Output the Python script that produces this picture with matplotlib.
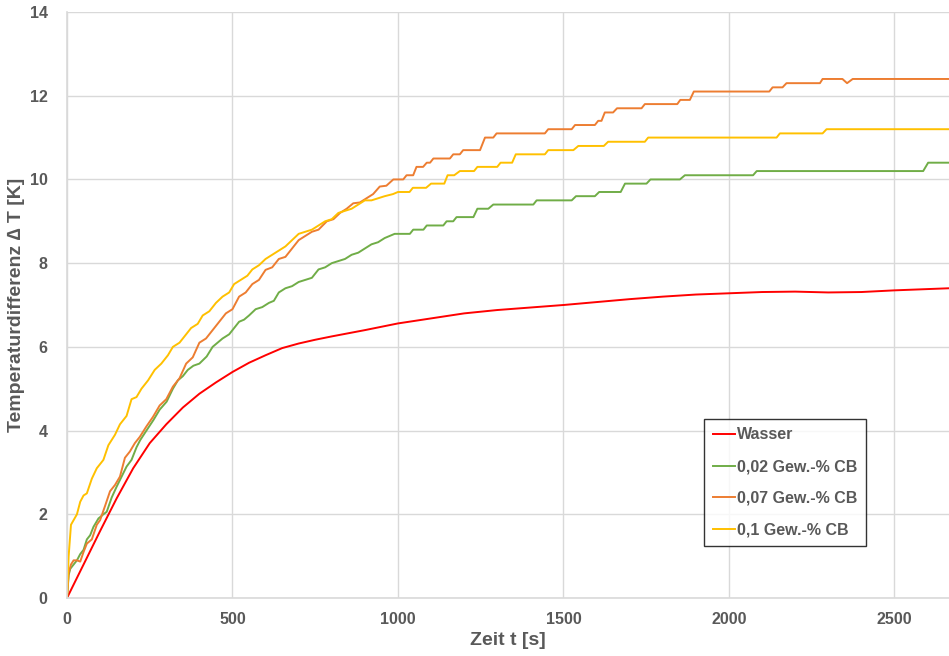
import numpy as np
import matplotlib
matplotlib.use("Agg")
import matplotlib.pyplot as plt

plt.rcParams['font.family'] = ['Liberation Sans', 'DejaVu Sans']

# Wasser (smooth curve)
t_wasser = [0, 50, 100, 150, 200, 250, 300, 350, 400, 450, 500, 550, 600, 650, 700, 750,
            800, 900, 1000, 1100, 1200, 1300, 1400, 1500, 1600, 1700, 1800, 1900, 2000,
            2100, 2200, 2300, 2400, 2500, 2665]
v_wasser = [0, 0.8, 1.6, 2.38, 3.1, 3.7, 4.15, 4.55, 4.88, 5.15, 5.4, 5.62, 5.8, 5.97,
            6.08, 6.17, 6.25, 6.4, 6.56, 6.68, 6.8, 6.88, 6.94, 7.0, 7.07, 7.14, 7.2,
            7.25, 7.28, 7.31, 7.32, 7.3, 7.31, 7.35, 7.4]

# 0,02 Gew.-% CB
t_cb002 = [0, 5, 10, 20, 30, 40, 50, 60, 70, 80, 95, 110, 120, 135, 150, 165, 180, 195,
           210, 221, 240, 261, 280, 301, 320, 335, 350, 365, 382, 400, 422, 440, 455,
           470, 490, 505, 520, 535, 550, 570, 590, 610, 625, 640, 660, 680, 700, 720,
           740, 760, 780, 800, 820, 840, 860, 880, 900, 920, 940, 960, 990, 1036, 1046,
           1077, 1087, 1137, 1147, 1167, 1177, 1228, 1240, 1273, 1288, 1409, 1419,
           1525, 1538, 1595, 1608, 1673, 1686, 1751, 1763, 1852, 1867, 2073, 2084,
           2587, 2602, 2665]
v_cb002 = [0, 0.55, 0.7, 0.8, 0.9, 1.05, 1.15, 1.4, 1.5, 1.7, 1.9, 2.0, 2.06, 2.4, 2.66,
           2.9, 3.14, 3.3, 3.6, 3.77, 4.0, 4.25, 4.5, 4.69, 5.0, 5.2, 5.3, 5.45, 5.55,
           5.6, 5.77, 6.0, 6.1, 6.2, 6.3, 6.45, 6.6, 6.65, 6.75, 6.9, 6.95, 7.05, 7.1,
           7.3, 7.4, 7.45, 7.55, 7.6, 7.65, 7.85, 7.9, 8.0, 8.05, 8.1, 8.2, 8.25, 8.35,
           8.45, 8.5, 8.6, 8.7, 8.7, 8.8, 8.8, 8.9, 8.9, 9.0, 9.0, 9.1, 9.1, 9.3, 9.3,
           9.4, 9.4, 9.5, 9.5, 9.6, 9.6, 9.7, 9.7, 9.9, 9.9, 10.0, 10.0, 10.1, 10.1,
           10.2, 10.2, 10.4, 10.4]

# 0,07 Gew.-% CB
t_cb007 = [0, 5, 12, 20, 30, 40, 50, 60, 75, 90, 100, 115, 130, 145, 160, 175, 190, 205,
           220, 240, 260, 280, 300, 320, 340, 360, 380, 400, 420, 440, 460, 480, 500,
           520, 540, 560, 580, 600, 620, 640, 660, 680, 700, 720, 740, 760, 785, 805,
           825, 845, 865, 885, 905, 925, 945, 965, 986, 1016, 1026, 1046, 1056, 1076,
           1087, 1097, 1107, 1157, 1167, 1187, 1197, 1248, 1263, 1288, 1298, 1444,
           1454, 1525, 1535, 1595, 1605, 1615, 1625, 1650, 1662, 1736, 1746, 1844,
           1853, 1882, 1894, 2122, 2132, 2162, 2174, 2275, 2283, 2343, 2357, 2374, 2665]
v_cb007 = [0, 0.6, 0.8, 0.9, 0.9, 0.87, 1.1, 1.3, 1.4, 1.75, 1.86, 2.2, 2.55, 2.7, 2.9,
           3.35, 3.5, 3.7, 3.85, 4.1, 4.33, 4.6, 4.75, 5.05, 5.25, 5.6, 5.75, 6.1, 6.2,
           6.4, 6.6, 6.8, 6.9, 7.2, 7.3, 7.5, 7.6, 7.84, 7.9, 8.1, 8.15, 8.35, 8.55,
           8.65, 8.75, 8.8, 9.0, 9.05, 9.2, 9.3, 9.43, 9.45, 9.55, 9.65, 9.83, 9.85,
           10.0, 10.0, 10.1, 10.1, 10.3, 10.3, 10.4, 10.4, 10.5, 10.5, 10.6, 10.6, 10.7,
           10.7, 11.0, 11.0, 11.1, 11.1, 11.2, 11.2, 11.3, 11.3, 11.4, 11.4, 11.6, 11.6,
           11.7, 11.7, 11.8, 11.8, 11.9, 11.9, 12.1, 12.1, 12.2, 12.2, 12.3, 12.3, 12.4,
           12.4, 12.3, 12.4, 12.4]

# 0,1 Gew.-% CB
t_cb01 = [0, 5, 12, 30, 40, 50, 60, 75, 90, 110, 125, 145, 160, 180, 195, 210, 225, 245,
          265, 285, 305, 320, 340, 360, 375, 395, 410, 430, 450, 470, 490, 505, 525,
          545, 560, 580, 600, 620, 640, 660, 680, 700, 720, 740, 760, 780, 800, 820,
          840, 860, 880, 900, 920, 940, 960, 985, 1000, 1035, 1045, 1085, 1100, 1140,
          1150, 1170, 1187, 1230, 1240, 1300, 1310, 1345, 1356, 1444, 1454, 1530, 1545,
          1622, 1635, 1746, 1756, 2144, 2154, 2283, 2295, 2665]
v_cb01 = [0, 1.0, 1.75, 2.0, 2.3, 2.45, 2.5, 2.85, 3.1, 3.3, 3.65, 3.9, 4.15, 4.35, 4.75,
          4.8, 5.0, 5.2, 5.45, 5.6, 5.8, 6.0, 6.1, 6.3, 6.45, 6.55, 6.75, 6.85, 7.05,
          7.2, 7.3, 7.5, 7.6, 7.7, 7.85, 7.95, 8.1, 8.2, 8.3, 8.4, 8.55, 8.7, 8.75, 8.8,
          8.9, 9.0, 9.05, 9.2, 9.25, 9.3, 9.4, 9.5, 9.5, 9.55, 9.6, 9.65, 9.7, 9.7, 9.8,
          9.8, 9.9, 9.9, 10.1, 10.1, 10.2, 10.2, 10.3, 10.3, 10.4, 10.4, 10.6, 10.6,
          10.7, 10.7, 10.8, 10.8, 10.9, 10.9, 11.0, 11.0, 11.1, 11.1, 11.2, 11.2]

x_ticks = [0, 500, 1000, 1500, 2000, 2500]
y_ticks = [0, 2, 4, 6, 8, 10, 12, 14]

TXT = "#595959"
GRID = "#d9d9d9"

fig = plt.figure(figsize=(9.49, 6.56), dpi=100)
ax = fig.add_axes([0.0706, 0.0884, 0.9294, 0.8933])

ax.plot(t_wasser, v_wasser, color="#ff0000", lw=1.4, label="Wasser")
ax.plot(t_cb002, v_cb002, color="#70ad47", lw=1.4, label="0,02 Gew.-% CB")
ax.plot(t_cb007, v_cb007, color="#ed7d31", lw=1.4, label="0,07 Gew.-% CB")
ax.plot(t_cb01, v_cb01, color="#ffc000", lw=1.4, label="0,1 Gew.-% CB")

ax.set_xlim(0, 2665)
ax.set_ylim(0, 14)
ax.set_xticks(x_ticks)
ax.set_yticks(y_ticks)
ax.grid(True, color=GRID, lw=1.0)
ax.set_axisbelow(True)

for s in ["top", "right"]:
    ax.spines[s].set_visible(False)
for s in ["left", "bottom"]:
    ax.spines[s].set_color(GRID)
    ax.spines[s].set_linewidth(1.2)

ax.tick_params(length=0, labelsize=11.5, labelcolor=TXT)
ax.tick_params(axis="x", pad=10)
ax.tick_params(axis="y", pad=14)
for lbl in ax.get_xticklabels() + ax.get_yticklabels():
    lbl.set_fontweight("bold")

ax.set_xlabel("Zeit t [s]", fontsize=14, fontweight="bold", color=TXT, labelpad=4)
ax.set_ylabel("Temperaturdifferenz \u2206 T [K]", fontsize=14, fontweight="bold",
              color=TXT, labelpad=3)

leg = ax.legend(loc="lower left", bbox_to_anchor=(0.722, 0.088), fancybox=False,
                frameon=True, handlelength=1.4, handletextpad=0.1, labelspacing=1.05,
                borderpad=0.55, borderaxespad=0, prop={"size": 11.5, "weight": "bold"})
leg.get_frame().set_edgecolor("black")
leg.get_frame().set_linewidth(1.0)
for txt in leg.get_texts():
    txt.set_color(TXT)

fig.savefig("out.png", dpi=100)
